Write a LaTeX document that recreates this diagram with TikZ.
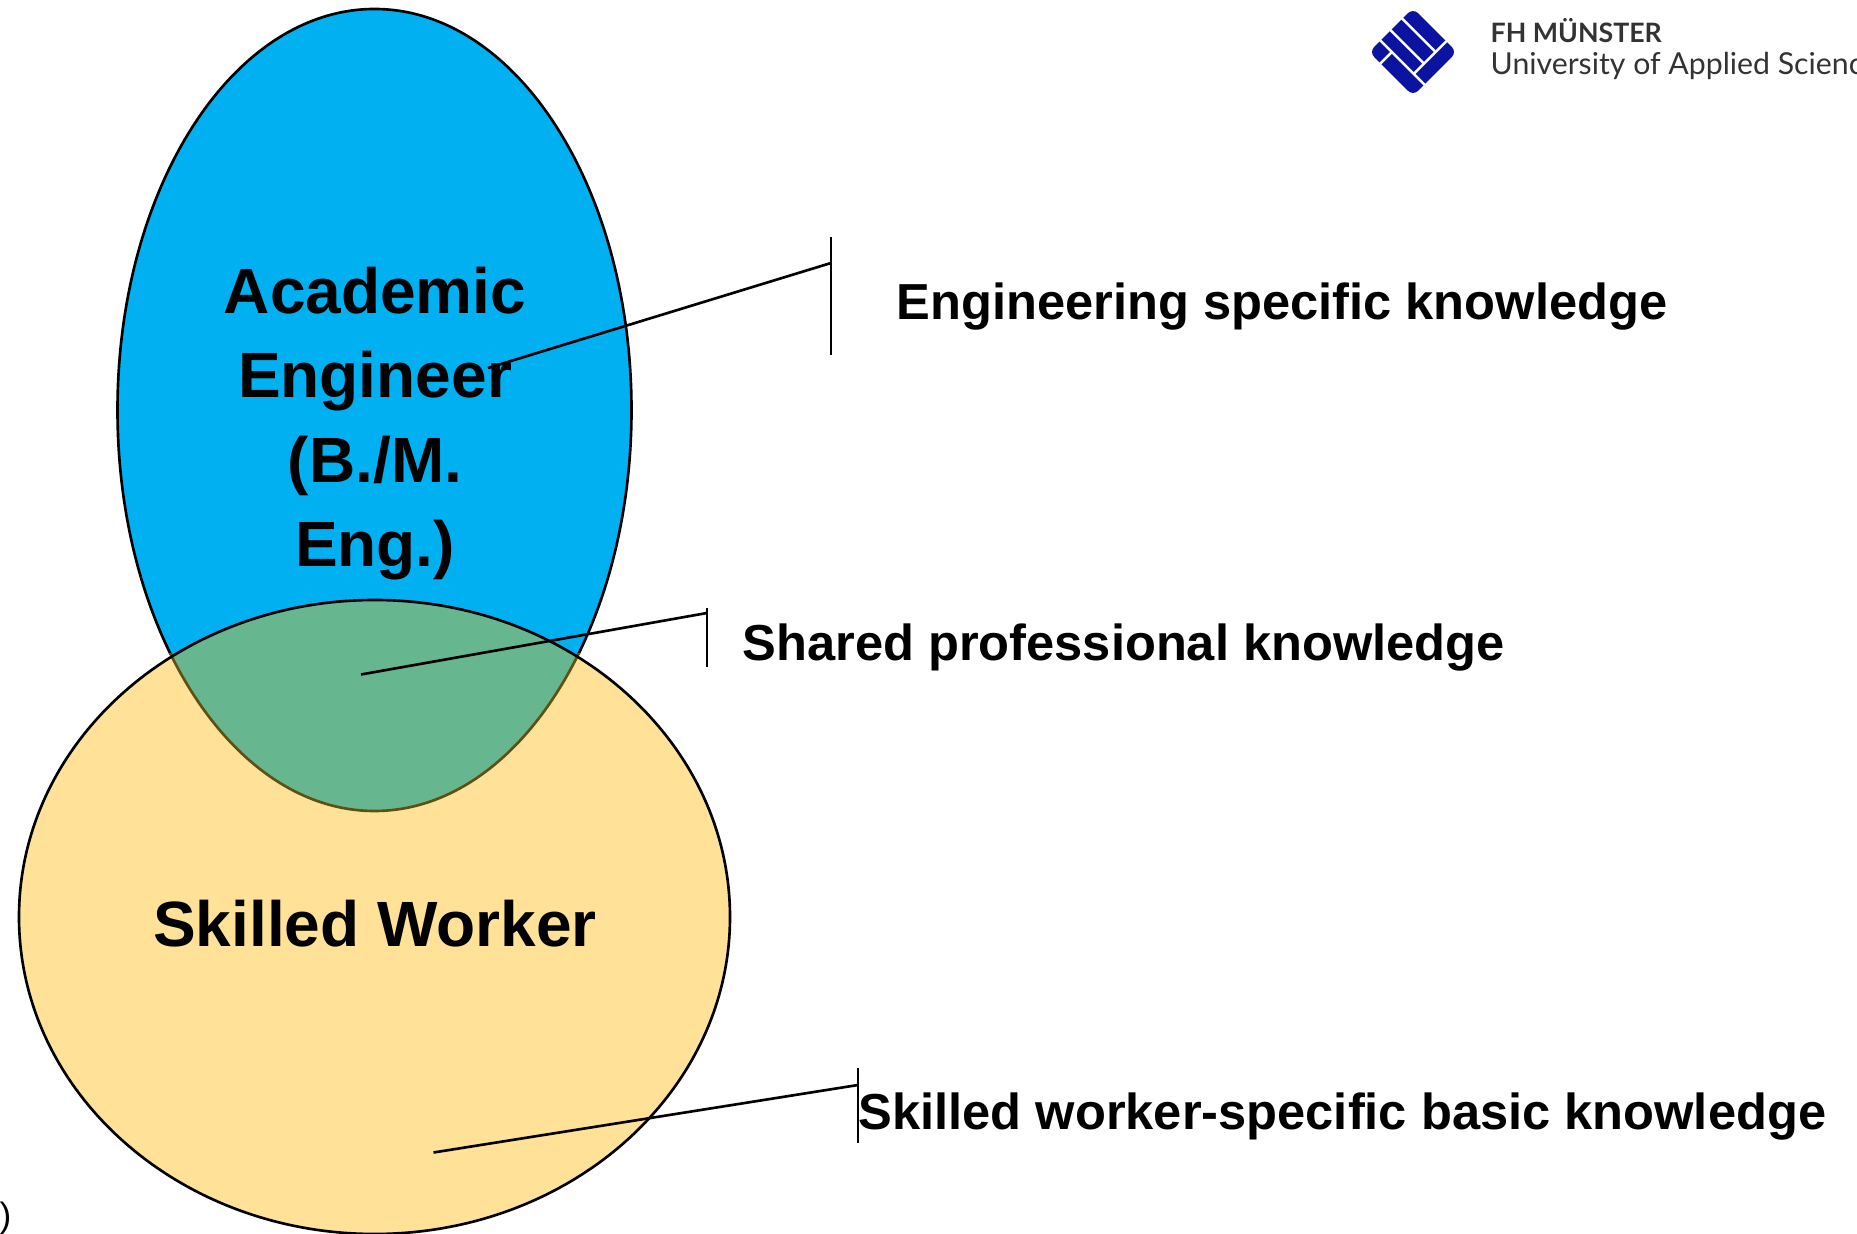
\documentclass[tikz,border=0pt]{standalone}
\usepackage{fontspec}
\setmainfont{Liberation Sans}
\newfontfamily\logofont{Lato}
\definecolor{acad}{HTML}{00B0F0}
\definecolor{skill}{HTML}{FFE298}
\definecolor{shared}{HTML}{66B68F}
\definecolor{sharededge}{HTML}{5F4F10}
\definecolor{logoblue}{HTML}{0A14A0}
\tikzset{
  outline/.style={draw=black,line width=0.75pt},
  leader/.style={draw=black,line width=0.75pt},
  title/.style={font=\fontsize{18.2}{22}\selectfont\bfseries,anchor=base,inner sep=0pt},
  lab/.style={font=\fontsize{14.39}{17}\selectfont\bfseries,anchor=base west,inner sep=0pt},
  logotxt/.style={anchor=base west,inner sep=0pt,text=black!80},
  logoline/.style={white,line width=0.7pt}
}
\begin{document}
\begin{tikzpicture}[x=0.01cm,y=-0.01cm]
\useasboundingbox (0,0) rectangle (1857,1234);
\clip (0,0) rectangle (1857,1234);
% ellipses
\fill[acad] (374.5,410) ellipse [x radius=257,y radius=401];
\fill[skill] (374.5,917) ellipse [x radius=355.5,y radius=317];
\begin{scope}
  \clip (374.5,410) ellipse [x radius=257,y radius=401];
  \fill[shared] (374.5,917) ellipse [x radius=355.5,y radius=317];
\end{scope}
\begin{scope}
  \clip (0,0) rectangle (1857,655);
  \draw[outline] (374.5,410) ellipse [x radius=257,y radius=401];
\end{scope}
\begin{scope}
  \clip (0,654) rectangle (1857,1234);
  \draw[draw=sharededge,line width=0.75pt] (374.5,410) ellipse [x radius=257,y radius=401];
\end{scope}
\draw[outline] (374.5,917) ellipse [x radius=355.5,y radius=317];
% titles
\node[title] (acadA) at (375,314) {Academic};
\node[title] (acadB) at (375,398) {Engineer};
\node[title] (acadC) at (375,483) {(B./M.};
\node[title] (acadD) at (375,567) {Eng.)};
\node[title] (worker) at (375,947) {Skilled Worker};
% labels
\node[lab] (labA) at (896,320) {Engineering specific knowledge};
\node[lab] (labB) at (742,661) {Shared professional knowledge};
\node[lab] (labC) at (858,1129) {Skilled worker-specific basic knowledge};
% leaders
\coordinate (a0) at (488,368); \coordinate (a1) at (831,263);
\coordinate (a2) at (831,237); \coordinate (a3) at (831,355);
\coordinate (b0) at (361,674.5); \coordinate (b1) at (707,613);
\coordinate (b2) at (707,608); \coordinate (b3) at (707,667);
\coordinate (c0) at (433.5,1152.5); \coordinate (c1) at (858,1085);
\coordinate (c2) at (858,1068); \coordinate (c3) at (858,1143);
\draw[leader] (a0) -- (a1); \draw[leader] (a2) -- (a3);
\draw[leader] (b0) -- (b1); \draw[leader] (b2) -- (b3);
\draw[leader] (c0) -- (c1); \draw[leader] (c2) -- (c3);
% stray bracket
\node[font=\fontsize{10}{12}\selectfont,anchor=base east,inner sep=0pt] (stray) at (12,1227) {)};
% logo
\begin{scope}[shift={(1413,52)},rotate=-45]
  \fill[logoblue,rounded corners=2pt] (-31,-31) rectangle (31,31);
  \draw[logoline] (-32,-16) -- (16,-16);
  \draw[logoline] (-32,0.5) -- (16,0.5);
  \draw[logoline] (-32,15) -- (32,15);
  \draw[logoline] (16,-32) -- (16,15);
  \draw[logoline] (-15,15) -- (-15,32);
\end{scope}
\node[logotxt,font=\logofont\bfseries\fontsize{7.6}{9}\selectfont] (logoA) at (1490,43) {FH MÜNSTER};
\node[logotxt,font=\logofont\fontsize{8.6}{10}\selectfont] (logoB) at (1490,75) {University of Applied Scienc};
\end{tikzpicture}
\end{document}
